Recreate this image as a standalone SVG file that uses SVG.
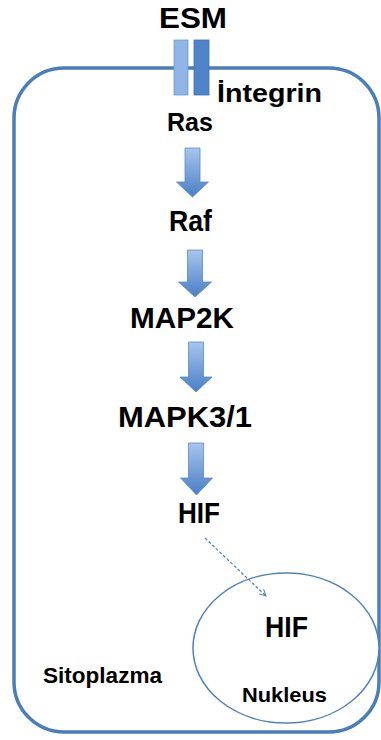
<svg xmlns="http://www.w3.org/2000/svg" width="381" height="740" viewBox="0 0 381 740">
<defs>
<style>
.lbl{font-family:"Liberation Sans",Arial,sans-serif;font-weight:bold;fill:#000;}
.blk{fill:url(#ag);stroke:#5A8AC6;stroke-width:0.8;}
</style>
<linearGradient id="ag" x1="0" y1="0" x2="0" y2="1">
<stop offset="0" stop-color="#A7C5EE"/>
<stop offset="1" stop-color="#4A7FC4"/>
</linearGradient>
<marker id="open" viewBox="0 0 10 10" refX="9" refY="5" markerWidth="8" markerHeight="8" orient="auto" markerUnits="userSpaceOnUse">
<path d="M1,1 L9,5 L1,9" fill="none" stroke="#4F81BD" stroke-width="1.2"/>
</marker>
</defs>
<rect width="381" height="740" fill="#fff"/>
<g id="cell">
<rect x="14" y="68" width="365" height="664" rx="50" ry="50" fill="none" stroke="#4A7EBB" stroke-width="3.5"/>
<text class="lbl" x="43" y="683" font-size="22" textLength="119" lengthAdjust="spacingAndGlyphs">Sitoplazma</text>
</g>
<g id="esm"><text class="lbl" x="159" y="28" font-size="30" textLength="68" lengthAdjust="spacingAndGlyphs">ESM</text></g>
<g id="integrin">
<rect x="174" y="40" width="14" height="55" fill="#8FB5E6" stroke="#6F9AD2" stroke-width="0.8"/>
<rect x="194" y="40" width="15" height="55" fill="#4F84C8" stroke="#3F72B5" stroke-width="0.8"/>
<text class="lbl" x="217" y="102" font-size="26" textLength="105" lengthAdjust="spacingAndGlyphs">İntegrin</text>
</g>
<g id="ras"><text class="lbl" x="167" y="131" font-size="26" textLength="46" lengthAdjust="spacingAndGlyphs">Ras</text></g>
<g id="raf"><text class="lbl" x="169" y="231" font-size="29" textLength="43" lengthAdjust="spacingAndGlyphs">Raf</text></g>
<g id="map2k"><text class="lbl" x="130" y="328" font-size="29" textLength="104" lengthAdjust="spacingAndGlyphs">MAP2K</text></g>
<g id="mapk31"><text class="lbl" x="118" y="427" font-size="29" textLength="134" lengthAdjust="spacingAndGlyphs">MAPK3/1</text></g>
<g id="hif"><text class="lbl" x="178" y="523" font-size="29" textLength="42" lengthAdjust="spacingAndGlyphs">HIF</text></g>
<g id="nucleus">
<ellipse cx="286" cy="648" rx="93" ry="75" fill="#fff" stroke="#4F81BD" stroke-width="1.5"/>
<text class="lbl" x="265" y="637" font-size="29" textLength="43" lengthAdjust="spacingAndGlyphs">HIF</text>
<text class="lbl" x="242" y="702" font-size="21" textLength="85" lengthAdjust="spacingAndGlyphs">Nukleus</text>
</g>
<g id="connectors">
<path class="blk" d="M185,148 H200 V182 H208.5 L192.5,197 L176.5,182 H185 Z"/>
<path class="blk" d="M187.5,250 H202.5 V282 H211.5 L195,297 L178.5,282 H187.5 Z"/>
<path class="blk" d="M188.5,342 H203.5 V377 H212 L196,392 L180,377 H188.5 Z"/>
<path class="blk" d="M188.5,443 H203.5 V478 H212.5 L196.5,495 L180.5,478 H188.5 Z"/>
<line x1="205" y1="538" x2="266" y2="596" stroke="#4F81BD" stroke-width="1.2" stroke-dasharray="3,2" marker-end="url(#open)"/>
</g>
</svg>
